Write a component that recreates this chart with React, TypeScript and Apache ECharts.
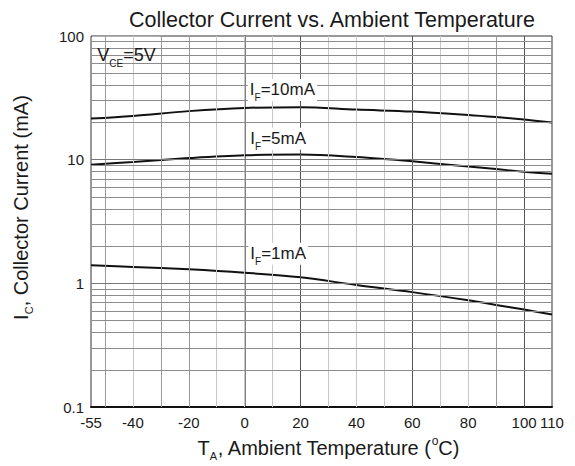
import React, { useEffect, useRef } from 'react';
import * as echarts from 'echarts';

// ---- data ----
const temperatures = [-55, -40, -20, 0, 20, 40, 60, 80, 90, 100, 110];
const ic10mA = [21.5, 22.6, 24.7, 26.2, 26.6, 25.4, 24.5, 23.0, 22.1, 21.1, 20.0];
const ic5mA = [9.1, 9.6, 10.3, 10.85, 11.0, 10.5, 9.7, 8.8, 8.4, 8.0, 7.7];
const ic1mA = [1.4, 1.36, 1.3, 1.22, 1.12, 0.97, 0.85, 0.73, 0.67, 0.615, 0.56];

const xTickLabels = [-55, -40, -20, 0, 20, 40, 60, 80, 100, 110];
const yTickLabels = [0.1, 1, 10, 100];
const xGridValues = [-50, -40, -30, -20, -10, 0, 10, 20, 30, 40, 50, 60, 70, 80, 90, 100];
const xMajorGrid = [20, 60, 100];
const xMediumGrid = [-50, -30, -20, 90];
const yMinorGrid = [0.2, 0.3, 0.4, 0.5, 0.6, 0.7, 0.8, 0.9, 2, 3, 4, 5, 6, 7, 8, 9, 20, 30, 40, 50, 60, 70, 80, 90];
const yDecadeGrid = [1, 10];

const FONT = "'Liberation Sans', Arial, Helvetica, sans-serif";
const INK = '#1a1a1a';

function richSet(size: number, subSize: number, subPad: number) {
  return {
    n: { fontSize: size, lineHeight: size + 5, fontFamily: FONT, color: INK },
    s: { fontSize: subSize, lineHeight: subSize, fontFamily: FONT, color: INK, verticalAlign: 'top', padding: [subPad, 0, 0, 0] },
    p: { fontSize: subSize + 1, lineHeight: subSize, fontFamily: FONT, color: INK, verticalAlign: 'top', padding: [0, 0, 0, 0] },
  };
}

export default function App() {
  const ref = useRef<HTMLDivElement>(null);
  useEffect(() => {
    if (!ref.current) return;
    const chart = echarts.init(ref.current, undefined, { renderer: 'svg' });

    const gridLines: any[] = [];
    xGridValues.forEach((v) => {
      const color = xMajorGrid.includes(v) ? '#555' : xMediumGrid.includes(v) ? '#999' : '#c8c8c8';
      gridLines.push({ xAxis: v, lineStyle: { color, width: 1, type: 'solid' } });
    });
    yMinorGrid.forEach((v) => gridLines.push({ yAxis: v, lineStyle: { color: '#8c8c8c', width: 1, type: 'solid' } }));
    yDecadeGrid.forEach((v) => gridLines.push({ yAxis: v, lineStyle: { color: '#777', width: 1, type: 'solid' } }));

    const labelRich = richSet(17, 10, 14);
    const boxRich = richSet(18, 10, 15);

    const curve = (name: string, values: number[], tag: string, at: [number, number]) => ({
      type: 'line',
      name,
      z: 3,
      data: temperatures.map((t, i) => [t, values[i]]),
      smooth: 0.35,
      symbol: 'none',
      lineStyle: { color: '#111', width: 2 },
      markPoint: {
        silent: true,
        symbol: 'circle',
        symbolSize: 1,
        itemStyle: { color: 'rgba(0,0,0,0)' },
        data: [
          {
            coord: at,
            label: {
              show: true,
              position: 'inside',
              formatter: `{n|I}{s|F}{n|=${tag}}`,
              backgroundColor: '#fff',
              padding: [0, 2, 0, 2],
              rich: labelRich,
            },
          },
        ],
      },
    });

    const option: any = {
      animation: false,
      backgroundColor: '#fff',
      title: {
        text: 'Collector Current vs. Ambient Temperature',
        left: 129,
        top: 9,
        padding: 0,
        textStyle: { fontFamily: FONT, fontSize: 21.5, fontWeight: 'normal', color: INK },
      },
      grid: {
        left: 90,
        top: 36,
        right: 23,
        bottom: 54,
        show: true,
        borderColor: '#333',
        borderWidth: 1,
        backgroundColor: 'rgba(0,0,0,0)',
      },
      xAxis: {
        type: 'value',
        min: -55,
        max: 110,
        interval: 5,
        name: '{n|T}{s|A}{n|, Ambient Temperature (}{p|o}{n|C)}',
        nameLocation: 'middle',
        nameGap: 12,
        nameTextStyle: { rich: richSet(20, 11, 15), padding: [0, 0, 0, 14] },
        axisLine: { show: true, lineStyle: { color: '#111', width: 2 } },
        axisTick: { show: false },
        splitLine: { show: false },
        axisLabel: {
          margin: 8,
          fontFamily: FONT,
          fontSize: 15,
          color: INK,
          showMinLabel: true,
          showMaxLabel: true,
          formatter: (v: number) => (xTickLabels.includes(v) ? String(v) : ''),
        },
      },
      yAxis: {
        type: 'log',
        logBase: 10,
        min: 0.1,
        max: 100,
        name: '{n|I}{s|C}{n|, Collector Current (mA)}',
        nameLocation: 'middle',
        nameRotate: 90,
        nameGap: 58,
        nameTextStyle: { rich: richSet(20, 11, 15), padding: [0, 0, 0, 28] },
        axisLine: { show: true, lineStyle: { color: '#808080', width: 2 } },
        axisTick: { show: false },
        splitLine: { show: false },
        axisLabel: {
          margin: 7,
          fontFamily: FONT,
          fontSize: 15,
          color: INK,
          formatter: (v: number) => {
            const hit = yTickLabels.find((t) => Math.abs(t - v) / t < 1e-6);
            return hit !== undefined ? String(hit) : '';
          },
        },
      },
      series: [
        {
          type: 'line',
          name: 'grid',
          z: 1,
          data: [],
          silent: true,
          markLine: {
            silent: true,
            symbol: ['none', 'none'],
            label: { show: false },
            data: gridLines,
          },
        },
        {
          type: 'line',
          name: 'box',
          z: 2,
          data: [],
          silent: true,
          markArea: {
            silent: true,
            itemStyle: { color: '#fff' },
            data: [[{ xAxis: -54.5, yAxis: 51 }, { xAxis: -30.4, yAxis: 98.6 }]],
          },
          markPoint: {
            silent: true,
            symbol: 'circle',
            symbolSize: 1,
            itemStyle: { color: 'rgba(0,0,0,0)' },
            data: [
              {
                coord: [-42.3, 70.6],
                label: {
                  show: true,
                  position: 'inside',
                  formatter: '{n|V}{s|CE}{n|=5V}',
                  rich: boxRich,
                },
              },
            ],
          },
        },
        curve('IF=10mA', ic10mA, '10mA', [13.5, 36.6]),
        curve('IF=5mA', ic5mA, '5mA', [12, 14.8]),
        curve('IF=1mA', ic1mA, '1mA', [12, 1.735]),
      ],
    };
    chart.setOption(option);
    return () => chart.dispose();
  }, []);
  return <div ref={ref} style={{ position: 'fixed', left: 0, top: 0, width: 575, height: 466 }} />;
}
